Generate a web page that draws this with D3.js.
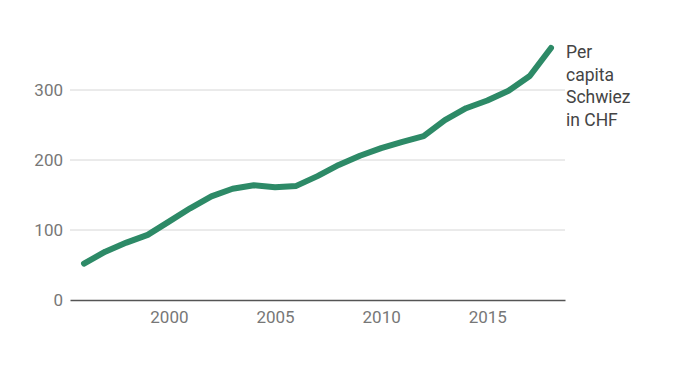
<!DOCTYPE html>
<html>
<head>
<meta charset="utf-8">
<script src="https://cdn.jsdelivr.net/npm/d3@7"></script>
<style>
  html, body { margin: 0; padding: 0; background: #fff; overflow: hidden; }
  svg { display: block; }
  svg text { font-family: Roboto, "Noto Sans", sans-serif; }
</style>
</head>
<body>
<div id="chart"></div>
<script>
// Data
const years = [1996, 1997, 1998, 1999, 2000, 2001, 2002, 2003, 2004, 2005, 2006,
               2007, 2008, 2009, 2010, 2011, 2012, 2013, 2014, 2015, 2016, 2017, 2018];
const perCapita = [52, 69, 82, 93, 112, 131, 148, 159, 164, 161, 163,
                   177, 193, 206, 217, 226, 234, 257, 274, 285, 299, 320, 360];
const yTicks = [0, 100, 200, 300];
const xTicks = [2000, 2005, 2010, 2015];
const seriesLabel = ["Per", "capita", "Schwiez", "in CHF"];

const width = 680, height = 371;
const margin = { top: 20, right: 115, bottom: 71, left: 70 };
const innerWidth = width - margin.left - margin.right;
const innerHeight = height - margin.top - margin.bottom;

const svg = d3.select("#chart").append("svg")
    .attr("width", width)
    .attr("height", height)
    .append("g")
    .attr("transform", "translate(" + margin.left + "," + margin.top + ")");

// scales: small padding around the first and last year
const xScale = d3.scaleLinear()
    .domain([1995.34, 2018.66])
    .range([0, innerWidth]);

const yScale = d3.scaleLinear()
    .domain([0, 400])
    .range([innerHeight, innerHeight - 280]);

// gridlines
svg.append("g")
    .selectAll("line")
    .data(yTicks.filter(d => d > 0))
    .join("line")
    .attr("x1", 0)
    .attr("x2", innerWidth)
    .attr("y1", d => yScale(d))
    .attr("y2", d => yScale(d))
    .attr("stroke", "#d6d6d6")
    .attr("stroke-width", 1);

// y axis labels
const yAxis = d3.axisLeft(yScale).tickValues(yTicks).tickSize(0).tickPadding(7);
svg.append("g")
    .call(yAxis)
    .call(g => g.select(".domain").remove())
    .selectAll("text")
    .style("font-size", "17px")
    .attr("fill", "#777");

// x axis
const xAxis = d3.axisBottom(xScale).tickValues(xTicks).tickFormat(d3.format("d"))
    .tickSize(0).tickPadding(11);
svg.append("g")
    .attr("transform", `translate(0,${innerHeight})`)
    .call(xAxis)
    .call(g => g.select(".domain").attr("stroke", "#555").attr("stroke-width", 1.5))
    .selectAll("text")
    .style("font-size", "17px")
    .attr("fill", "#777");

// the line
const line = d3.line()
    .x((d, i) => xScale(years[i]))
    .y(d => yScale(d));

svg.append("path")
    .datum(perCapita)
    .attr("d", line)
    .attr("fill", "none")
    .attr("stroke", "#2d8a67")
    .attr("stroke-width", 6)
    .attr("stroke-linejoin", "round")
    .attr("stroke-linecap", "round");

// series label at the end of the line, one text per row
const last = perCapita.length - 1;
const labelX = xScale(years[last]) + 15;
svg.append("g")
    .selectAll("text")
    .data(seriesLabel)
    .join("text")
    .attr("x", labelX)
    .attr("y", (d, i) => yScale(perCapita[last]) + 10 + i * 22.5)
    .attr("fill", "#444")
    .style("font-size", "17.5px")
    .text(d => d);
</script>
</body>
</html>
